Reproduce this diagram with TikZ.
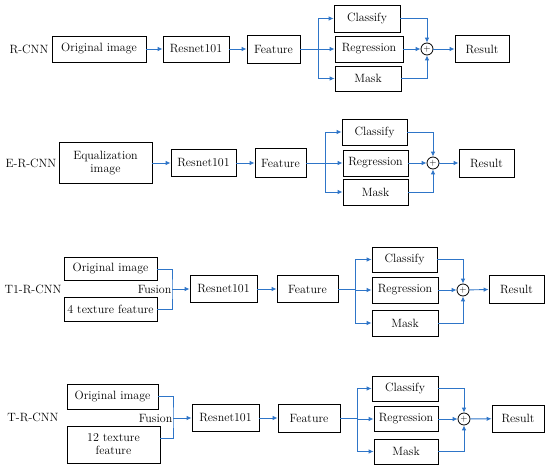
\documentclass[tikz,border=0pt]{standalone}
\usetikzlibrary{arrows.meta}
\definecolor{flowblue}{RGB}{46,117,200}

\begin{document}
\begin{tikzpicture}[x=1pt, y=-1pt,
    font=\fontsize{12}{13}\selectfont,
    box/.style={draw, line width=0.8pt, inner sep=1pt, minimum height=26pt},
    plusnode/.style={draw, circle, line width=0.8pt, inner sep=0pt, minimum size=12pt, font=\small},
    flow/.style={flowblue, line width=0.9pt},
    arr/.style={flow, -{Latex[length=5pt,width=4.5pt]}}]
    \useasboundingbox (0,0) rectangle (550,469);

    % R-CNN
    \node (lab1) at (29,49) {R-CNN};
    \node[box, minimum width=94pt] (orig1) at (99,49) {Original image};
    \node[box, minimum width=66pt] (resnet1) at (196,49) {Resnet101};
    \node[box, minimum width=53pt, minimum height=28pt] (feat1) at (273.5,49) {Feature};
    \node[box, minimum width=66pt, minimum height=27pt] (cls1) at (367,18.5) {Classify};
    \node[box, minimum width=68pt] (reg1) at (369,49) {Regression};
    \node[box, minimum width=66pt, minimum height=25pt] (mask1) at (368,78.5) {Mask};
    \node[plusnode] (plus1) at (427,49) {$+$};
    \node[box, minimum width=54pt, minimum height=27pt] (result1) at (482,49) {Result};
    \draw[arr] (orig1) -- (resnet1);
    \draw[arr] (resnet1) -- (feat1);
    \draw[arr] (feat1) -- (reg1);
    \draw[arr] (feat1.east) -- ++(18,0) |- (cls1.west);
    \draw[arr] (feat1.east) -- ++(18,0) |- (mask1.west);
    \draw[arr] (reg1) -- (plus1);
    \draw[arr] (cls1.east) -| (plus1.north);
    \draw[arr] (mask1.east) -| (plus1.south);
    \draw[arr] (plus1) -- (result1);

    % E-R-CNN
    \node (lab2) at (31,163) {E-R-CNN};
    \node[box, minimum width=93pt, minimum height=41pt, align=center] (eq2) at (105.5,163) {Equalization\\image};
    \node[box, minimum width=65pt, minimum height=27pt] (resnet2) at (203.5,163) {Resnet101};
    \node[box, minimum width=51pt, minimum height=29pt] (feat2) at (280.5,163) {Feature};
    \node[box, minimum width=65pt] (cls2) at (374.5,132) {Classify};
    \node[box, minimum width=65pt] (reg2) at (375.5,163) {Regression};
    \node[box, minimum width=65pt] (mask2) at (375.5,192) {Mask};
    \node[plusnode] (plus2) at (433,163) {$+$};
    \node[box, minimum width=55pt, minimum height=28pt] (result2) at (486.5,163) {Result};
    \draw[arr] (eq2) -- (resnet2);
    \draw[arr] (resnet2) -- (feat2);
    \draw[arr] (feat2) -- (reg2);
    \draw[arr] (feat2.east) -- ++(19,0) |- (cls2.west);
    \draw[arr] (feat2.east) -- ++(19,0) |- (mask2.west);
    \draw[arr] (reg2) -- (plus2);
    \draw[arr] (cls2.east) -| (plus2.north);
    \draw[arr] (mask2.east) -| (plus2.south);
    \draw[arr] (plus2) -- (result2);

    % T1-R-CNN
    \node (lab3) at (33,289) {T1-R-CNN};
    \node[box, minimum width=93pt, minimum height=23pt] (orig3) at (110.5,269) {Original image};
    \node[box, minimum width=93pt, minimum height=24pt] (tex3) at (110.5,309) {4 texture feature};
    \coordinate (fu3) at (172,289);
    \node[anchor=east, inner sep=0.5pt] (fusion3) at (fu3) {Fusion};
    \node[box, minimum width=67pt, minimum height=27pt] (resnet3) at (223.5,289) {Resnet101};
    \node[box, minimum width=61pt, minimum height=27pt] (feat3) at (307.5,289) {Feature};
    \node[box, minimum width=65pt, minimum height=25pt] (cls3) at (404.5,259.5) {Classify};
    \node[box, minimum width=66pt] (reg3) at (405,290) {Regression};
    \node[box, minimum width=66pt] (mask3) at (405,323) {Mask};
    \node[plusnode] (plus3) at (463,290) {$+$};
    \node[box, minimum width=55pt, minimum height=28pt] (result3) at (516.5,289) {Result};
    \draw[flow] (orig3.east) -| (fu3) |- (tex3.east);
    \draw[arr] (fu3) -- (resnet3);
    \draw[arr] (resnet3) -- (feat3);
    \draw[arr] (feat3.east) -- ++(17,0) |- (reg3.west);
    \draw[arr] (feat3.east) -- ++(17,0) |- (cls3.west);
    \draw[arr] (feat3.east) -- ++(17,0) |- (mask3.west);
    \draw[arr] (reg3) -- (plus3);
    \draw[arr] (cls3.east) -| (plus3.north);
    \draw[arr] (mask3.east) -| (plus3.south);
    \draw[arr] (plus3) -- (result3);

    % T-R-CNN
    \node (lab4) at (33,417) {T-R-CNN};
    \node[box, minimum width=91pt, minimum height=25pt] (orig4) at (112.5,396.5) {Original image};
    \node[box, minimum width=93pt, minimum height=37pt, align=center] (tex4) at (113.5,444.5) {12 texture\\feature};
    \coordinate (fu4) at (173,418);
    \node[anchor=east, inner sep=0.5pt] (fusion4) at (fu4) {Fusion};
    \node[box, minimum width=67pt, minimum height=27pt] (resnet4) at (225.5,418) {Resnet101};
    \node[box, minimum width=62pt, minimum height=28pt] (feat4) at (309,418) {Feature};
    \node[box, minimum width=66pt, minimum height=25pt] (cls4) at (405,388.5) {Classify};
    \node[box, minimum width=64pt, minimum height=25pt] (reg4) at (406,419) {Regression};
    \node[box, minimum width=64pt, minimum height=25pt] (mask4) at (406,451.5) {Mask};
    \node[plusnode] (plus4) at (464,419) {$+$};
    \node[box, minimum width=52pt, minimum height=27pt] (result4) at (518,418.5) {Result};
    \draw[flow] (orig4.east) -| (fu4) |- ([yshift=6.5pt]tex4.east);
    \draw[arr] (fu4) -- (resnet4);
    \draw[arr] (resnet4) -- (feat4);
    \draw[arr] (feat4.east) -- ++(17,0) |- (reg4.west);
    \draw[arr] (feat4.east) -- ++(17,0) |- (cls4.west);
    \draw[arr] (feat4.east) -- ++(17,0) |- (mask4.west);
    \draw[arr] (reg4) -- (plus4);
    \draw[arr] (cls4.east) -| (plus4.north);
    \draw[arr] (mask4.east) -| (plus4.south);
    \draw[arr] (plus4) -- (result4);
\end{tikzpicture}
\end{document}
